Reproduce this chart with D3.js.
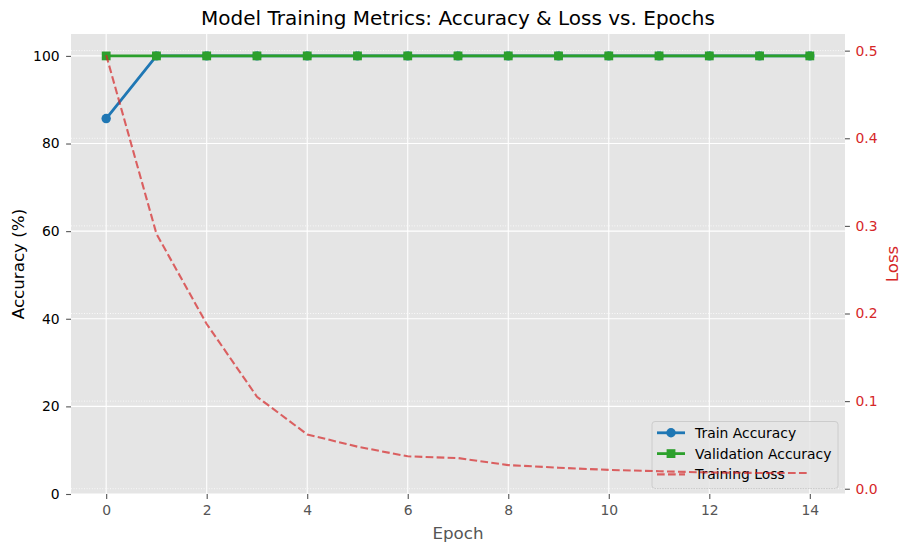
<!DOCTYPE html>
<html>
<head>
<meta charset="utf-8">
<script src="https://cdn.jsdelivr.net/npm/d3@7"></script>
<style>
  body { margin: 0; background: #fff; }
  svg { font-family: "DejaVu Sans", sans-serif; }
</style>
</head>
<body>
<script>
// data
var epochs = [0, 1, 2, 3, 4, 5, 6, 7, 8, 9, 10, 11, 12, 13, 14];
var trainAcc = [85.7, 100, 100, 100, 100, 100, 100, 100, 100, 100, 100, 100, 100, 100, 100];
var valAcc = [100, 100, 100, 100, 100, 100, 100, 100, 100, 100, 100, 100, 100, 100, 100];
var trainLoss = [0.495, 0.291, 0.188, 0.105, 0.062, 0.048, 0.037, 0.035, 0.027, 0.024, 0.0215, 0.020, 0.0185, 0.018, 0.018];
var xTicks = [0, 2, 4, 6, 8, 10, 12, 14];
var accTicks = [0, 20, 40, 60, 80, 100];
var lossTicks = [0.0, 0.1, 0.2, 0.3, 0.4, 0.5];
var legendNames = ["Train Accuracy", "Validation Accuracy", "Training Loss"];

var width = 909, height = 552;
var margin = {top: 34, right: 64, bottom: 58, left: 71};
var red = "#d62728";

var svg = d3.select("body").append("svg")
    .attr("width", width)
    .attr("height", height);

var x = d3.scaleLinear().domain([-0.7, 14.7]).range([margin.left, width - margin.right]);
var yAcc = d3.scaleLinear().domain([0, 105]).range([height - margin.bottom, margin.top]);
var yLoss = d3.scaleLinear().domain([-0.006, 0.519]).range([height - margin.bottom, margin.top]);

// plot box edges ("top" is taken by window, so prefixed names)
var pTop = margin.top, pBottom = height - margin.bottom;
var pLeft = margin.left, pRight = width - margin.right;

// panel
svg.append("rect")
    .attr("x", pLeft).attr("y", pTop)
    .attr("width", pRight - pLeft).attr("height", pBottom - pTop)
    .attr("fill", "#e5e5e5");

// grid of the accuracy axes
svg.append("g").selectAll("line").data(xTicks).join("line")
    .attr("x1", d => x(d)).attr("x2", d => x(d))
    .attr("y1", pTop).attr("y2", pBottom)
    .attr("stroke", "#fff").attr("stroke-width", 1.1);
svg.append("g").selectAll("line").data(accTicks).join("line")
    .attr("x1", pLeft).attr("x2", pRight)
    .attr("y1", d => yAcc(d)).attr("y2", d => yAcc(d))
    .attr("stroke", "#fff").attr("stroke-width", 1.1);

// axes
var xAxis = svg.append("g")
    .attr("transform", "translate(0," + pBottom + ")")
    .call(d3.axisBottom(x).tickValues(xTicks).tickSize(4.9).tickPadding(6.5));
var yAxisL = svg.append("g")
    .attr("transform", "translate(" + pLeft + ",0)")
    .call(d3.axisLeft(yAcc).tickValues(accTicks).tickSize(4.9).tickPadding(6.5));
var yAxisR = svg.append("g")
    .attr("transform", "translate(" + pRight + ",0)")
    .call(d3.axisRight(yLoss).tickValues(lossTicks).tickFormat(d3.format(".1f")).tickSize(4.9).tickPadding(5.5));

[xAxis, yAxisL, yAxisR].forEach(function(a){
  a.select(".domain").remove();
  a.selectAll(".tick line").attr("stroke", "#555").attr("stroke-width", 1.1);
  a.selectAll("text").attr("font-size", 13.9).attr("font-family", "DejaVu Sans");
});
xAxis.selectAll("text").attr("fill", "#555");
yAxisL.selectAll("text").attr("fill", "#000");
yAxisR.selectAll("text").attr("fill", red);

// accuracy lines
var accLine = function(vals){
  return d3.line().x((d, i) => x(epochs[i])).y(d => yAcc(d))(vals);
};
svg.append("path").attr("d", accLine(trainAcc))
    .attr("fill", "none").attr("stroke", "#1f77b4").attr("stroke-width", 2.8);
svg.append("g").selectAll("circle").data(trainAcc).join("circle")
    .attr("cx", (d, i) => x(epochs[i])).attr("cy", d => yAcc(d))
    .attr("r", 4.7).attr("fill", "#1f77b4");
svg.append("path").attr("d", accLine(valAcc))
    .attr("fill", "none").attr("stroke", "#2ca02c").attr("stroke-width", 2.8);
svg.append("g").selectAll("rect").data(valAcc).join("rect")
    .attr("x", (d, i) => x(epochs[i]) - 4.4).attr("y", d => yAcc(d) - 4.4)
    .attr("width", 8.8).attr("height", 8.8).attr("fill", "#2ca02c");

// legend (belongs to the accuracy axes, so the loss layer sits above it)
var lg = svg.append("g");
lg.append("rect")
    .attr("x", 652).attr("y", 421.5).attr("width", 186).attr("height", 67)
    .attr("rx", 3).attr("fill", "#e5e5e5").attr("fill-opacity", 0.8)
    .attr("stroke", "#ccc").attr("stroke-width", 1);
var rows = lg.selectAll("g.row").data(legendNames).join("g")
    .attr("transform", (d, i) => "translate(657," + (432.8 + i * 20.8) + ")");
rows.append("line")
    .attr("x1", 0).attr("x2", 28).attr("y1", 0).attr("y2", 0)
    .attr("stroke", (d, i) => ["#1f77b4", "#2ca02c", red][i])
    .attr("stroke-width", (d, i) => i < 2 ? 2.8 : 2.1)
    .attr("stroke-opacity", (d, i) => i < 2 ? 1 : 0.7)
    .attr("stroke-dasharray", (d, i) => i < 2 ? null : "7.7,3.3");
rows.filter((d, i) => i == 0).append("circle")
    .attr("cx", 14).attr("cy", 0).attr("r", 4.7).attr("fill", "#1f77b4");
rows.filter((d, i) => i == 1).append("rect")
    .attr("x", 14 - 4.4).attr("y", -4.4).attr("width", 8.8).attr("height", 8.8).attr("fill", "#2ca02c");
rows.append("text")
    .attr("x", 38).attr("y", 0).attr("dy", "0.36em")
    .attr("font-size", 13.9).attr("fill", "#000")
    .text(d => d);

// dotted grid of the loss axes
svg.append("g").selectAll("line").data(lossTicks).join("line")
    .attr("x1", pLeft).attr("x2", pRight)
    .attr("y1", d => yLoss(d)).attr("y2", d => yLoss(d))
    .attr("stroke", "#fff").attr("stroke-width", 0.9)
    .attr("stroke-dasharray", "1,1.6").attr("opacity", 0.9);

// loss line
svg.append("path")
    .attr("d", d3.line().x((d, i) => x(epochs[i])).y(d => yLoss(d))(trainLoss))
    .attr("fill", "none").attr("stroke", red).attr("stroke-opacity", 0.7)
    .attr("stroke-width", 2.1).attr("stroke-dasharray", "7.7,3.3");

// titles
svg.append("text")
    .attr("x", (pLeft + pRight) / 2).attr("y", 25)
    .attr("text-anchor", "middle").attr("font-size", 20).attr("fill", "#000")
    .text("Model Training Metrics: Accuracy & Loss vs. Epochs");
svg.append("text")
    .attr("x", (pLeft + pRight) / 2).attr("y", 539)
    .attr("text-anchor", "middle").attr("font-size", 16.7).attr("fill", "#555")
    .text("Epoch");
svg.append("text")
    .attr("transform", "translate(24," + (pTop + pBottom) / 2 + ") rotate(-90)")
    .attr("text-anchor", "middle").attr("font-size", 16.7).attr("fill", "#000")
    .text("Accuracy (%)");
svg.append("text")
    .attr("transform", "translate(898," + (pTop + pBottom) / 2 + ") rotate(-90)")
    .attr("text-anchor", "middle").attr("font-size", 16.7).attr("fill", red)
    .text("Loss");
</script>
</body>
</html>
